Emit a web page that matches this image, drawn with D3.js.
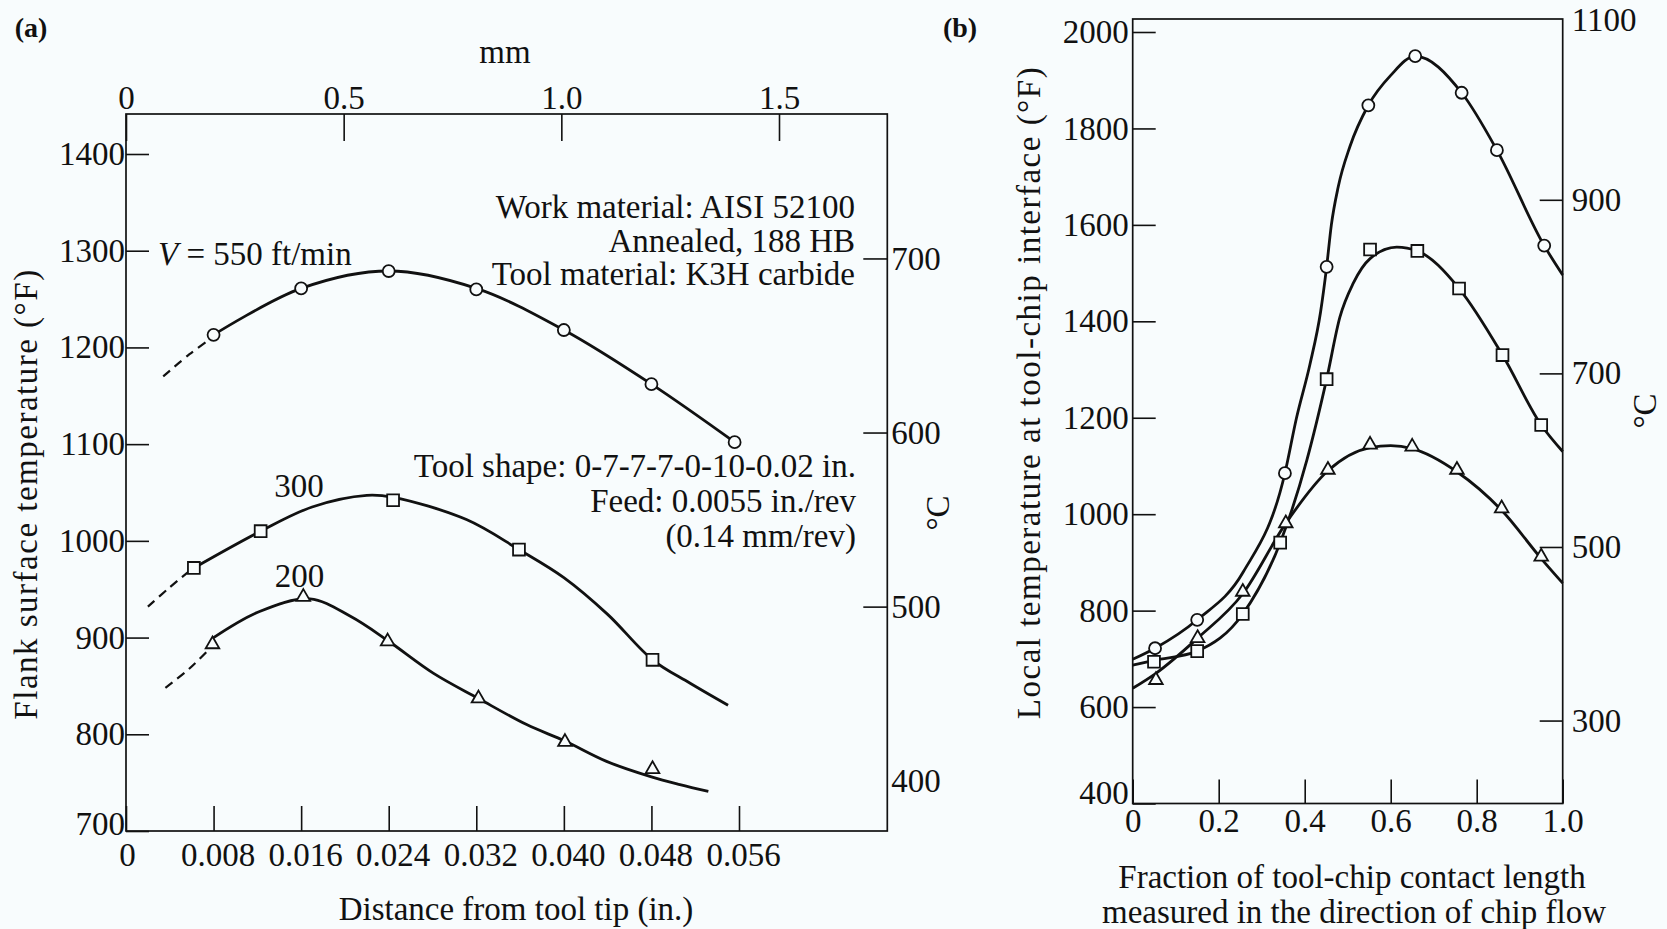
<!DOCTYPE html>
<html><head><meta charset="utf-8">
<script src="https://cdn.jsdelivr.net/npm/d3@7"></script>
<style>
html,body{margin:0;padding:0;background:#f8fcfd;}
svg{display:block;}
text{font-family:"Liberation Serif","Times New Roman",serif;fill:#111;}
</style></head><body>
<svg id="chart" width="1667" height="929"></svg>
<script>
// ---------------- Panel (a) data ----------------
const inchTicks = [0, 0.008, 0.016, 0.024, 0.032, 0.040, 0.048, 0.056];
const mmTicks = [0, 0.5, 1.0, 1.5];
const flankTicksF = [700, 800, 900, 1000, 1100, 1200, 1300, 1400];
const flankTicksC = [400, 500, 600, 700];

const v550Dist = [0.008, 0.016, 0.024, 0.032, 0.040, 0.048, 0.0556];
const v550Temp = [1213, 1261, 1279, 1260, 1218, 1162, 1102];
const v550CurveDist = [0.008, 0.016, 0.024, 0.032, 0.040, 0.048, 0.0556];
const v550CurveTemp = [1213, 1261, 1279, 1261, 1218, 1162, 1102];
const v550DashDist = [0.0034, 0.0058, 0.0076];
const v550DashTemp = [1170, 1193, 1208];

const v300Dist = [0.0062, 0.0123, 0.0244, 0.0359, 0.0481];
const v300Temp = [972, 1010, 1042, 991, 877];
const v300CurveDist = [0.0062, 0.0123, 0.0170, 0.0220, 0.0244, 0.0311, 0.0359, 0.0400, 0.0440, 0.0481, 0.0515, 0.0550];
const v300CurveTemp = [972, 1010, 1035, 1047, 1045, 1022, 991, 962, 924, 877, 853, 830];
const v300DashDist = [0.0020, 0.0040, 0.0057];
const v300DashTemp = [932, 952, 968];

const v200Dist = [0.0079, 0.0162, 0.0239, 0.0322, 0.0401, 0.0481];
const v200Temp = [893, 942, 896, 837, 792, 764];
const v200CurveDist = [0.0080, 0.0122, 0.0168, 0.0205, 0.0239, 0.0281, 0.0322, 0.0366, 0.0401, 0.0439, 0.0480, 0.0506, 0.0532];
const v200CurveTemp = [900, 927, 940, 922, 897, 863, 837, 810, 793, 772, 756, 748, 741];
const v200DashDist = [0.0036, 0.0058, 0.0076];
const v200DashTemp = [848, 868, 888];

// ---------------- Panel (b) data ----------------
const fracTicks = [0, 0.2, 0.4, 0.6, 0.8, 1.0];
const localTicksF = [400, 600, 800, 1000, 1200, 1400, 1600, 1800, 2000];
const localTicksC = [300, 500, 700, 900, 1100];

const circFrac = [0.052, 0.150, 0.354, 0.451, 0.548, 0.657, 0.765, 0.847, 0.957];
const circTemp = [722, 781, 1085, 1513, 1848, 1950, 1874, 1755, 1557];
const circCurveFrac = [0, 0.052, 0.150, 0.257, 0.354, 0.381, 0.412, 0.437, 0.451, 0.462, 0.478, 0.505, 0.548, 0.600, 0.657, 0.765, 0.847, 0.957, 1.0];
const circCurveTemp = [699, 722, 781, 880, 1085, 1200, 1310, 1420, 1513, 1600, 1679, 1762, 1848, 1910, 1950, 1874, 1755, 1557, 1496];

const sqFrac = [0.0495, 0.150, 0.256, 0.343, 0.451, 0.552, 0.662, 0.759, 0.860, 0.950];
const sqTemp = [694, 716, 793, 941, 1280, 1549, 1546, 1468, 1330, 1185];
const sqCurveFrac = [0, 0.050, 0.150, 0.256, 0.343, 0.405, 0.451, 0.482, 0.513, 0.552, 0.614, 0.662, 0.759, 0.860, 0.950, 1.0];
const sqCurveTemp = [687, 697, 716, 793, 941, 1112, 1280, 1409, 1479, 1530, 1554, 1546, 1468, 1330, 1185, 1130];

const triFrac = [0.054, 0.151, 0.256, 0.356, 0.454, 0.552, 0.650, 0.754, 0.858, 0.950];
const triTemp = [656, 743, 839, 981, 1092, 1144, 1140, 1092, 1012, 912];
const triCurveFrac = [0, 0.054, 0.151, 0.256, 0.356, 0.454, 0.552, 0.600, 0.650, 0.754, 0.858, 0.950, 1.0];
const triCurveTemp = [639, 670, 743, 835, 981, 1090, 1138, 1142, 1136, 1088, 1008, 908, 857];

// ---------------- drawing ----------------
const INK = "#111";
const BG = "#f8fcfd";
const FS = 33;
const cToF = c => c * 9 / 5 + 32;
const fToC = f => (f - 32) * 5 / 9;
const zip = (xs, ys) => xs.map((x, i) => [x, ys[i]]);

const svg = d3.select("#chart");
svg.append("rect").attr("width", 1667).attr("height", 929).attr("fill", BG);

function styleAxis(g) {
  g.attr("color", INK);
  g.select(".domain").remove();
  g.selectAll(".tick line").attr("stroke-width", 1.6);
  g.selectAll(".tick text").attr("font-size", FS)
    .attr("font-family", '"Liberation Serif","Times New Roman",serif').attr("fill", INK);
}

function frame(f) {
  svg.append("rect").attr("x", f.l).attr("y", f.t)
    .attr("width", f.r - f.l).attr("height", f.b - f.t)
    .attr("fill", "none").attr("stroke", INK).attr("stroke-width", 1.7);
}

function drawCurve(xs, ys, xS, yS, dashed, curve) {
  const line = d3.line().x(d => xS(d[0])).y(d => yS(d[1])).curve(curve || d3.curveMonotoneX);
  svg.append("path").attr("d", line(zip(xs, ys)))
    .attr("fill", "none").attr("stroke", INK)
    .attr("stroke-width", dashed ? 2.2 : 2.8)
    .attr("stroke-dasharray", dashed ? "9,6" : null)
    .attr("stroke-linecap", "butt");
}

function drawMarkers(xs, ys, xS, yS, type, size) {
  const sym = d3.symbol().type(type).size(size);
  svg.append("g").selectAll("path").data(zip(xs, ys)).join("path")
    .attr("transform", d => `translate(${xS(d[0])},${yS(d[1])})`)
    .attr("d", sym()).attr("fill", BG).attr("stroke", INK).attr("stroke-width", 1.8);
}

function addText(x, y, str, opts = {}) {
  const t = svg.append("text").attr("x", x).attr("y", y)
    .attr("font-size", opts.size || FS)
    .attr("text-anchor", opts.anchor || "start")
    .text(str);
  if (opts.weight) t.attr("font-weight", opts.weight);
  if (opts.style) t.attr("font-style", opts.style);
  return t;
}

function rotText(x, y, str, spacing) {
  svg.append("text").attr("transform", `translate(${x},${y}) rotate(-90)`)
    .attr("text-anchor", "middle").attr("font-size", FS)
    .style("letter-spacing", spacing ? spacing + "px" : null)
    .text(str);
}

// ===== Panel (a) =====
const fa = {l: 126, t: 114, r: 887.3, b: 831};
const xA = d3.scaleLinear().domain([0, 0.056]).range([126, 739]);
const yA = d3.scaleLinear().domain([700, 1400]).range([831, 154]);
const mmA = d3.scaleLinear().domain([0, 1.5]).range([126, 779]);
const smooth = d3.curveCatmullRom.alpha(0.5);

frame(fa);

svg.append("g").attr("transform", `translate(${fa.l},0)`)
  .call(d3.axisLeft(yA).tickValues(flankTicksF).tickSize(-23).tickPadding(1).tickFormat(d3.format("d")))
  .call(styleAxis)
  .call(g => g.selectAll(".tick").filter(d => d === 700).select("text").attr("y", -7));

svg.append("g").attr("transform", `translate(0,${fa.b})`)
  .call(d3.axisBottom(xA).tickValues(inchTicks).tickSize(-25).tickPadding(12)
    .tickFormat(d => d === 0 ? "0" : d3.format(".3f")(d)))
  .call(styleAxis)
  .call(g => g.selectAll(".tick text").attr("dx", d => d === 0 ? 1 : 4));

svg.append("g").attr("transform", `translate(0,${fa.t})`)
  .call(d3.axisTop(mmA).tickValues(mmTicks).tickSize(-27).tickPadding(5)
    .tickFormat(d => d === 0 ? "0" : d3.format(".1f")(d)))
  .call(styleAxis);

svg.append("g").attr("transform", `translate(${fa.r},0)`)
  .call(d3.axisRight(yA).tickValues(flankTicksC.map(cToF)).tickSize(-24).tickPadding(4)
    .tickFormat(f => d3.format("d")(Math.round(fToC(f)))))
  .call(styleAxis)
  .call(g => g.selectAll(".tick").filter(f => Math.round(fToC(f)) === 400).select("line").remove());

drawCurve(v550DashDist, v550DashTemp, xA, yA, true, smooth);
drawCurve(v300DashDist, v300DashTemp, xA, yA, true, smooth);
drawCurve(v200DashDist, v200DashTemp, xA, yA, true, smooth);
drawCurve(v550CurveDist, v550CurveTemp, xA, yA, false, smooth);
drawCurve(v300CurveDist, v300CurveTemp, xA, yA, false, smooth);
drawCurve(v200CurveDist, v200CurveTemp, xA, yA, false, smooth);
drawMarkers(v550Dist, v550Temp, xA, yA, d3.symbolCircle, 113);
drawMarkers(v300Dist, v300Temp, xA, yA, d3.symbolSquare, 140);
drawMarkers(v200Dist, v200Temp, xA, yA, d3.symbolTriangle, 80);

// labels panel (a)
const vLab = svg.append("text").attr("x", 158).attr("y", 265).attr("font-size", FS);
vLab.append("tspan").attr("font-style", "italic").text("V");
vLab.append("tspan").text(" = 550 ft/min");
addText(299, 497, "300", {anchor: "middle"});
addText(299.5, 587, "200", {anchor: "middle"});

addText(855, 218, "Work material: AISI 52100", {anchor: "end"});
addText(855, 251.5, "Annealed, 188 HB", {anchor: "end"});
addText(855, 285, "Tool material: K3H carbide", {anchor: "end"});
addText(856, 476.5, "Tool shape: 0-7-7-7-0-10-0.02 in.", {anchor: "end"});
addText(856, 511.5, "Feed: 0.0055 in./rev", {anchor: "end"});
addText(856, 546.5, "(0.14 mm/rev)", {anchor: "end"});

addText(505, 63, "mm", {anchor: "middle"});
addText(516, 920, "Distance from tool tip (in.)", {anchor: "middle"});
rotText(37, 494, "Flank surface temperature (°F)", 1.5);
rotText(949, 513, "°C");
addText(31, 37, "(a)", {anchor: "middle", size: 28, weight: "bold"});

// ===== Panel (b) =====
const fb = {l: 1132.7, t: 19, r: 1562.7, b: 803.5};
const xB = d3.scaleLinear().domain([0, 1]).range([fb.l, fb.r]);
const yB = d3.scaleLinear().domain([400, 2000]).range([803.5, 32]);

frame(fb);

svg.append("g").attr("transform", `translate(${fb.l},0)`)
  .call(d3.axisLeft(yB).tickValues(localTicksF).tickSize(-23).tickPadding(4).tickFormat(d3.format("d")))
  .call(styleAxis)
  .call(g => g.selectAll(".tick").filter(d => d === 400).select("text").attr("y", -11));

svg.append("g").attr("transform", `translate(0,${fb.b})`)
  .call(d3.axisBottom(xB).tickValues(fracTicks).tickSize(-24).tickPadding(5)
    .tickFormat(d => d === 0 ? "0" : d3.format(".1f")(d)))
  .call(styleAxis);

svg.append("g").attr("transform", `translate(${fb.r},0)`)
  .call(d3.axisRight(yB).tickValues(localTicksC.map(cToF)).tickSize(-23).tickPadding(9)
    .tickFormat(f => d3.format("d")(Math.round(fToC(f)))))
  .call(styleAxis)
  .call(g => {
    const top = g.selectAll(".tick").filter(f => Math.round(fToC(f)) === 1100);
    top.select("line").remove();
    top.select("text").attr("y", -6);
  });

drawCurve(circCurveFrac, circCurveTemp, xB, yB, false);
drawCurve(sqCurveFrac, sqCurveTemp, xB, yB, false);
drawCurve(triCurveFrac, triCurveTemp, xB, yB, false);
drawMarkers(circFrac, circTemp, xB, yB, d3.symbolCircle, 113);
drawMarkers(sqFrac, sqTemp, xB, yB, d3.symbolSquare, 140);
drawMarkers(triFrac, triTemp, xB, yB, d3.symbolTriangle, 80);

addText(1352, 888, "Fraction of tool-chip contact length", {anchor: "middle"});
addText(1354, 923, "measured in the direction of chip flow", {anchor: "middle"});
rotText(1040, 392.5, "Local temperature at tool-chip interface (°F)", 1.5);
rotText(1656, 411, "°C");
addText(960, 37, "(b)", {anchor: "middle", size: 28, weight: "bold"});
</script>
</body></html>
